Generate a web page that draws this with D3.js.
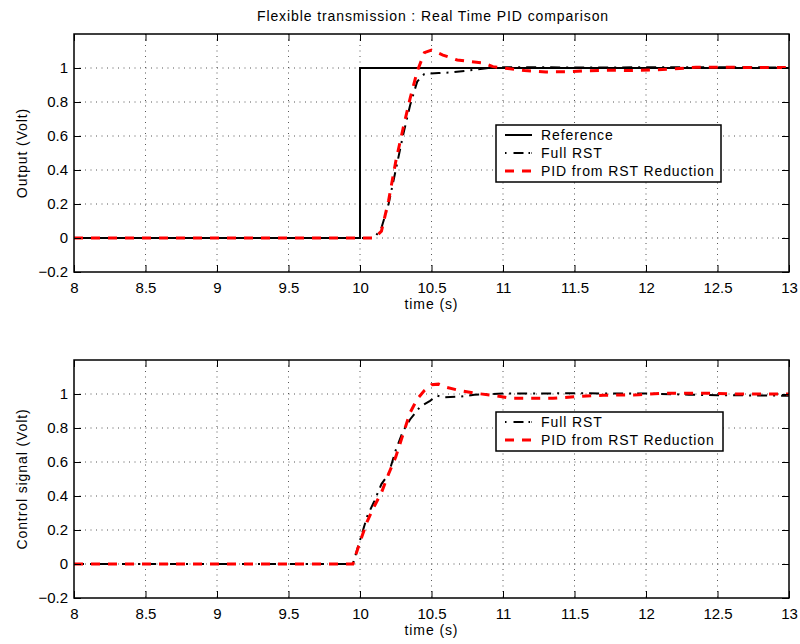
<!DOCTYPE html>
<html>
<head>
<meta charset="utf-8">
<title>Flexible transmission : Real Time PID comparison</title>
<script src="https://cdnjs.cloudflare.com/ajax/libs/d3/7.8.5/d3.min.js"></script>
<style>
  body { margin: 0; background: #fff; }
  svg { display: block; font-family: "Liberation Sans", Arial, Helvetica, sans-serif; }
  .grid line { stroke: #555; stroke-width: 1; stroke-dasharray: 1,4.5; }
  .frame { fill: none; stroke: #000; stroke-width: 1.5; }
  .lab { font-size: 14px; letter-spacing: 0.9px; fill: #000; }
</style>
</head>
<body>
<script>
// ---- data ----
var xTicks = [8, 8.5, 9, 9.5, 10, 10.5, 11, 11.5, 12, 12.5, 13];
var yTicks = [-0.2, 0, 0.2, 0.4, 0.6, 0.8, 1];

// top plot: output
var refT = [8, 10, 10, 13];
var refV = [0, 0, 1, 1];

var rstT = [8, 10.1, 10.15, 10.2, 10.25, 10.3, 10.35, 10.4, 10.45, 10.55, 10.65, 10.8, 10.9, 11, 11.5, 12, 12.5, 13];
var rstV = [0, 0, 0.06, 0.2, 0.4, 0.6, 0.78, 0.92, 0.965, 0.97, 0.975, 0.99, 1.0, 1.005, 1.003, 1.004, 1.005, 1.003];

var pidT = [8, 10.1, 10.15, 10.2, 10.25, 10.3, 10.35, 10.4, 10.45, 10.5, 10.58, 10.68, 10.75, 10.86, 10.93, 11.0,
            11.15, 11.3, 11.45, 11.6, 11.75, 11.9, 12.05, 12.2, 12.35, 12.5, 12.7, 12.9, 13];
var pidV = [0, 0, 0.04, 0.22, 0.45, 0.64, 0.82, 0.98, 1.09, 1.105, 1.076, 1.047, 1.04, 1.03, 1.008, 1.0,
            0.985, 0.977, 0.978, 0.984, 0.987, 0.985, 0.988, 0.995, 1.004, 1.005, 1.003, 1.003, 1.002];

// bottom plot: control signal
var rstUT = [8, 9.95, 10.0, 10.05, 10.1, 10.15, 10.2, 10.25, 10.3, 10.35, 10.42, 10.49, 10.54, 10.59, 10.7, 10.8, 11.0, 11.5, 12.0, 12.3, 12.5, 13];
var rstUV = [0, 0, 0.14, 0.28, 0.37, 0.47, 0.53, 0.67, 0.78, 0.85, 0.925, 0.96, 0.99, 0.98, 0.985, 0.995, 1.003, 1.004, 1.003, 0.996, 0.993, 0.99];

var pidUT = [8, 9.95, 10.0, 10.05, 10.1, 10.15, 10.2, 10.25, 10.3, 10.35, 10.4, 10.45, 10.5, 10.55, 10.6, 10.7, 10.8, 10.95,
             11.05, 11.2, 11.35, 11.5, 11.7, 11.95, 12.1, 12.4, 12.6, 13];
var pidUV = [0, 0, 0.13, 0.25, 0.34, 0.42, 0.53, 0.63, 0.76, 0.89, 0.97, 1.02, 1.055, 1.058, 1.04, 1.02, 1.005, 0.99,
             0.975, 0.975, 0.975, 0.984, 0.993, 0.995, 1.004, 1.005, 1.0, 1.0];

var W = 800, H = 644;
var svg = d3.select('body').append('svg').attr('width', W).attr('height', H);

var x = d3.scaleLinear().domain([8, 13]).range([74, 789]);

var styles = {
  ref: { stroke: '#000', width: 2, dash: null },
  rst: { stroke: '#000', width: 2, dash: '10,6,2,6' },
  pid: { stroke: '#f00', width: 3, dash: '9,8' }
};

function zip(ts, vs) {
  return ts.map(function (t, i) { return [t, vs[i]]; });
}

function drawPanel(top, bottom, series, yLabel, legend) {
  var y = d3.scaleLinear().domain([-0.2, 1.2]).range([bottom, top]);
  var g = svg.append('g');

  // grid
  var grid = g.append('g').attr('class', 'grid');
  grid.selectAll('.gx').data(xTicks.slice(1, -1)).enter().append('line')
    .attr('x1', function (d) { return x(d); }).attr('x2', function (d) { return x(d); })
    .attr('y1', top).attr('y2', bottom);
  grid.selectAll('.gy').data(yTicks.slice(1)).enter().append('line')
    .attr('y1', function (d) { return y(d); }).attr('y2', function (d) { return y(d); })
    .attr('x1', x(8)).attr('x2', x(13));

  // curves
  var line = d3.line().x(function (d) { return x(d[0]); }).y(function (d) { return y(d[1]); });
  series.forEach(function (s) {
    var st = styles[s.key];
    g.append('path').datum(zip(s.t, s.v))
      .attr('d', line)
      .attr('fill', 'none')
      .attr('stroke', st.stroke)
      .attr('stroke-width', st.width)
      .attr('stroke-dasharray', st.dash);
  });

  // axes with inward ticks on all sides, matlab-style box
  var tl = 7;
  var axB = d3.axisBottom(x).tickValues(xTicks).tickSizeInner(-tl).tickSizeOuter(0).tickPadding(10).tickFormat(d3.format('~g'));
  var axT = d3.axisTop(x).tickValues(xTicks).tickSizeInner(-tl).tickSizeOuter(0).tickFormat('');
  var fmtY = function (d) { return d < 0 ? '\u2212' + Math.abs(d) : d3.format('~g')(d); };
  var axL = d3.axisLeft(y).tickValues(yTicks).tickSizeInner(-tl).tickSizeOuter(0).tickPadding(6).tickFormat(fmtY);
  var axR = d3.axisRight(y).tickValues(yTicks).tickSizeInner(-tl).tickSizeOuter(0).tickFormat('');

  [
    g.append('g').attr('transform', 'translate(0,' + bottom + ')').call(axB),
    g.append('g').attr('transform', 'translate(0,' + top + ')').call(axT),
    g.append('g').attr('transform', 'translate(' + x(8) + ',0)').call(axL),
    g.append('g').attr('transform', 'translate(' + x(13) + ',0)').call(axR)
  ].forEach(function (a) {
    a.select('.domain').remove();
    a.attr('font-family', '"Liberation Sans", Arial, sans-serif').attr('font-size', 15);
    a.selectAll('line').attr('stroke', '#000').attr('stroke-width', 1);
    a.selectAll('text').attr('fill', '#000');
  });

  g.append('rect').attr('class', 'frame')
    .attr('x', x(8)).attr('y', top)
    .attr('width', x(13) - x(8)).attr('height', bottom - top);

  // labels
  g.append('text').attr('class', 'lab').attr('x', (x(8) + x(13)) / 2).attr('y', bottom + 37)
    .attr('text-anchor', 'middle').text('time (s)');
  g.append('text').attr('class', 'lab')
    .attr('transform', 'translate(27,' + (top + bottom) / 2 + ') rotate(-90)')
    .attr('text-anchor', 'middle').text(yLabel);

  // legend
  var lg = g.append('g').attr('transform', 'translate(' + legend.x + ',' + legend.y + ')');
  var rowH = 18;
  lg.append('rect').attr('x', 0).attr('y', 0)
    .attr('width', legend.w).attr('height', legend.items.length * rowH + 3)
    .attr('fill', '#fff').attr('stroke', '#000').attr('stroke-width', 1.5);
  legend.items.forEach(function (it, i) {
    var st = styles[it.key];
    var cy = 10 + i * rowH;
    lg.append('line').attr('x1', 9).attr('x2', 36).attr('y1', cy).attr('y2', cy)
      .attr('stroke', st.stroke).attr('stroke-width', st.width)
      .attr('stroke-dasharray', it.key === 'rst' ? '1.5,7,10,5,1.5' : st.dash);
    lg.append('text').attr('class', 'lab').attr('x', 45).attr('y', cy + 5).text(it.label);
  });
}

svg.append('text').attr('class', 'lab').attr('x', 433).attr('y', 21).attr('text-anchor', 'middle')
  .text('Flexible transmission : Real Time PID comparison');

drawPanel(34, 272, [
  { key: 'ref', t: refT, v: refV },
  { key: 'rst', t: rstT, v: rstV },
  { key: 'pid', t: pidT, v: pidV }
], 'Output (Volt)', {
  x: 496, y: 125, w: 225,
  items: [
    { key: 'ref', label: 'Reference' },
    { key: 'rst', label: 'Full RST' },
    { key: 'pid', label: 'PID from RST Reduction' }
  ]
});

drawPanel(360, 598, [
  { key: 'rst', t: rstUT, v: rstUV },
  { key: 'pid', t: pidUT, v: pidUV }
], 'Control signal (Volt)', {
  x: 496, y: 412, w: 227,
  items: [
    { key: 'rst', label: 'Full RST' },
    { key: 'pid', label: 'PID from RST Reduction' }
  ]
});
</script>
</body>
</html>
